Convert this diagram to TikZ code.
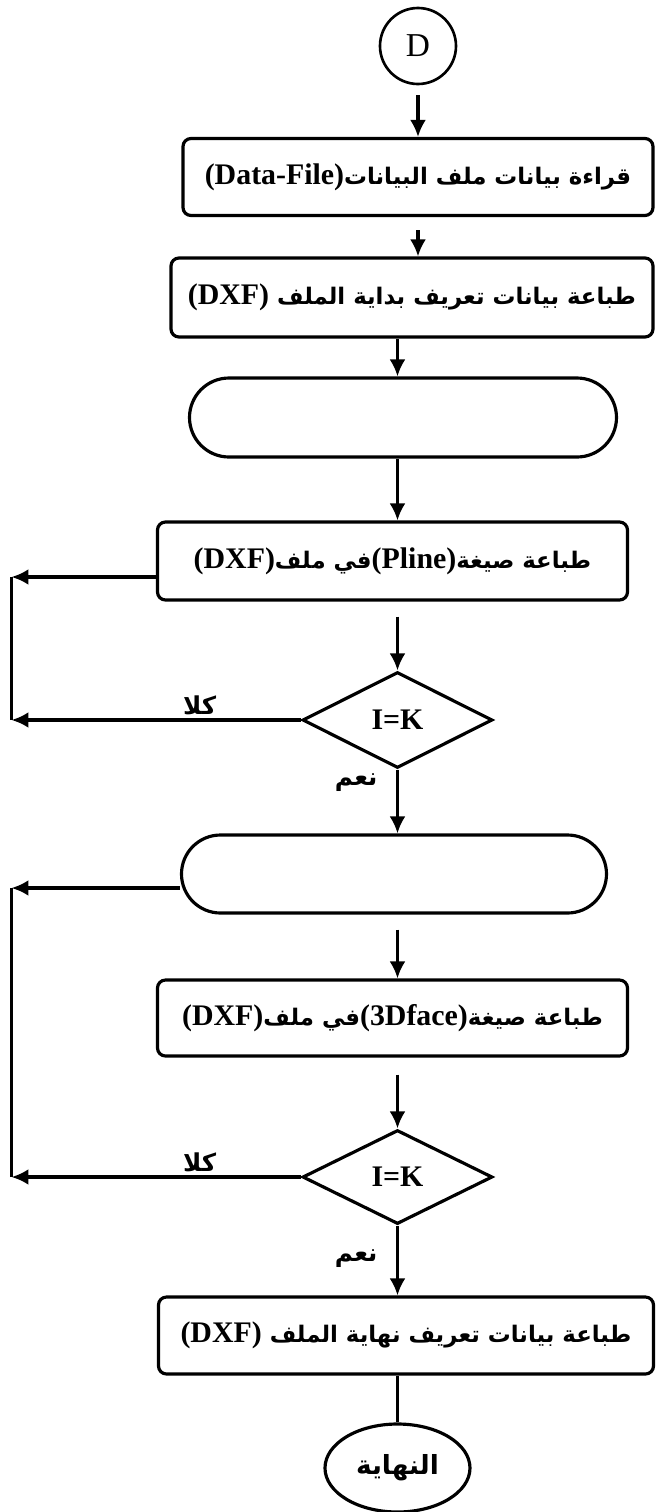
\documentclass[tikz,border=0pt]{standalone}
\usepackage{fontspec}
\usepackage{tikz}
\usetikzlibrary{shapes.geometric,shapes.misc,arrows.meta}
\TeXXeTstate=1
\newfontfamily\arabicfont[Script=Arabic]{DejaVu Sans}
\newfontfamily\latinfont{Liberation Serif}
\newcommand{\rtl}[1]{\beginR #1\endR}
\newcommand{\ltxt}[1]{\beginL{\latinfont\bfseries\fontsize{17pt}{20pt}\selectfont #1}\endL}
\tikzstyle{block} = [draw, fill=white, rectangle, rounded corners=0.16cm,
    line width=1.8pt, minimum height=1.54cm, inner sep=0pt,
    font=\arabicfont\bfseries\fontsize{13pt}{16pt}\selectfont]
\tikzstyle{term} = [draw, rounded rectangle, line width=1.8pt, minimum height=1.58cm, inner sep=0pt]
\tikzstyle{decision} = [draw, diamond, line width=1.8pt, minimum width=3.8cm, minimum height=1.92cm,
    inner sep=0pt, font=\latinfont\bfseries\fontsize{17pt}{20pt}\selectfont]
\tikzstyle{answer} = [font=\arabicfont\bfseries\fontsize{14pt}{16pt}\selectfont, inner sep=2pt]
\tikzstyle{input} = [coordinate]

\begin{document}
\begin{tikzpicture}[auto, node distance=2cm, line width=1.8pt, >={Latex[length=0.34cm,width=0.32cm]}]
\useasboundingbox (-8.36,0.92) rectangle (4.76,-29.32);
% Start
	\node [draw, circle, line width=1.5pt, minimum size=1.52cm, inner sep=0pt, font=\latinfont\fontsize{19pt}{20pt}\selectfont] (D) {D};
% Blocks down the column
	\node [block, below of=D, node distance=2.62 cm, minimum width=9.4 cm] (G1) {\rtl{قراءة بيانات ملف البيانات\ltxt{(Data-File)}}};
	\node [block, below of=G1, node distance=2.41 cm, xshift=-0.12 cm, minimum width=9.64 cm, minimum height=1.58 cm] (G2) {\rtl{طباعة بيانات تعريف بداية الملف \ltxt{(DXF)}}};
	\node [term, below of=G2, node distance=2.40 cm, xshift=-0.18 cm, minimum width=8.54 cm] (P1) {};
	\node [block, below of=P1, node distance=2.87 cm, xshift=-0.21 cm, minimum width=9.4 cm, minimum height=1.56 cm] (G3) {\rtl{طباعة صيغة\ltxt{(Pline)}في ملف\ltxt{(DXF)}}};
	\node [decision, below of=G3, node distance=3.18 cm, xshift=0.10 cm] (K1) {I=K};
	\node [term, below of=K1, node distance=3.08 cm, xshift=-0.07 cm, minimum width=8.5 cm, minimum height=1.56 cm] (P2) {};
	\node [block, below of=P2, node distance=2.88 cm, xshift=-0.03 cm, minimum width=9.4 cm, minimum height=1.52 cm] (G4) {\rtl{طباعة صيغة\ltxt{(3Dface)}في ملف\ltxt{(DXF)}}};
	\node [decision, below of=G4, node distance=3.18 cm, xshift=0.10 cm, minimum height=1.88 cm] (K2) {I=K};
	\node [block, below of=K2, node distance=3.17 cm, xshift=0.17 cm, minimum width=9.9 cm] (G5) {\rtl{طباعة بيانات تعريف نهاية الملف \ltxt{(DXF)}}};
	\node [draw, ellipse, below of=G5, node distance=2.65 cm, xshift=-0.17 cm, minimum width=2.9 cm, minimum height=1.76 cm, inner sep=0pt, font=\arabicfont\bfseries\fontsize{15pt}{18pt}\selectfont] (E) {\rtl{النهاية}};
% Return points on the left
	\node [input, left of=G3, node distance=7.62 cm, yshift=-0.32 cm, name=l1] {};
	\node [input, left of=K1, node distance=7.72 cm, name=l2] {};
	\node [input, left of=P2, node distance=7.65 cm, yshift=-0.28 cm, name=l3] {};
	\node [input, left of=K2, node distance=7.72 cm, name=l4] {};
% Arrows down the column
	\draw [->, shorten <=0.2cm] (D) -- (D |- G1.north);
	\draw [->, shorten <=0.26cm] (G1.south) -- (G1.south |- G2.north);
	\draw [->] (G2.south -| K1) -- (P1.north -| K1);
	\draw [->] (P1.south -| K1) -- (G3.north -| K1);
	\draw [->, shorten <=0.3cm] (G3.south -| K1) -- (K1.north);
	\draw [->] (K1.south) -- node[answer, swap, pos=0.2, xshift=-0.3cm] {\rtl{نعم}} (P2.north -| K1);
	\draw [->, shorten <=0.3cm] (P2.south -| K1) -- (G4.north -| K1);
	\draw [->, shorten <=0.34cm] (G4.south -| K2) -- (K2.north);
	\draw [->] (K2.south) -- node[answer, swap, pos=0.47, xshift=-0.3cm] {\rtl{نعم}} (G5.north -| K2);
	\draw (G5.south -| E) -- (E.north);
% Arrows back to the left
	\draw [->] (G3.west |- l1) -- (l1);
	\draw [->] (K1.west) -- node[answer, above, pos=0.35] {\rtl{كلا}} (l2);
	\draw (l1) -- (l2);
	\draw [->] (P2.west |- l3) -- (l3);
	\draw [->] (K2.west) -- node[answer, above, pos=0.35] {\rtl{كلا}} (l4);
	\draw (l3) -- (l4);
\end{tikzpicture}
\end{document}
